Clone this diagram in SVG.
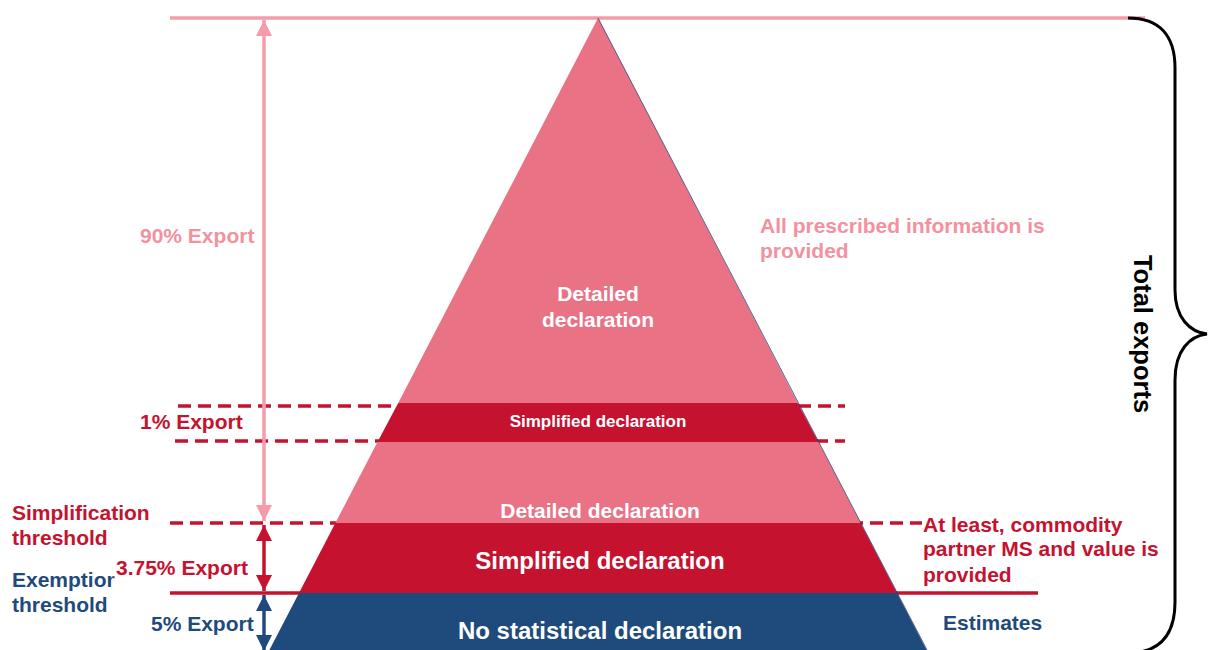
<svg xmlns="http://www.w3.org/2000/svg" width="1208" height="650" viewBox="0 0 1208 650">
<style>
text{font-family:"Liberation Sans",Arial,sans-serif;font-weight:bold}
.t21{font-size:21px}
.w{fill:#FFFFFF}
.pk{fill:#F3919F}
.rd{fill:#C4122F}
.bl{fill:#1F4A7C}
.dash{stroke:#C4122F;stroke-width:3.5;stroke-dasharray:13 7;fill:none}
.pkline{stroke:#F49CAA;stroke-width:3.5;fill:none}
</style>
<defs>
<marker id="ahPk" viewBox="0 0 10 10" refX="10" refY="5" markerWidth="4.6" markerHeight="4.6" orient="auto-start-reverse" markerUnits="strokeWidth"><path d="M0,0 L10,5 L0,10 Z" fill="#F49CAA"/></marker>
<marker id="ahRd" viewBox="0 0 10 10" refX="10" refY="5" markerWidth="4.6" markerHeight="4.6" orient="auto-start-reverse" markerUnits="strokeWidth"><path d="M0,0 L10,5 L0,10 Z" fill="#C4122F"/></marker>
<marker id="ahBl" viewBox="0 0 10 10" refX="10" refY="5" markerWidth="4.6" markerHeight="4.6" orient="auto-start-reverse" markerUnits="strokeWidth"><path d="M0,0 L10,5 L0,10 Z" fill="#1F4A7C"/></marker>
</defs>
<rect width="1208" height="650" fill="#FFFFFF"/>
<g id="connectors">
<line class="pkline" x1="170" y1="18" x2="1145" y2="18"/>
<line class="dash" x1="178" y1="406" x2="845" y2="406"/>
<line class="dash" x1="175" y1="441" x2="845" y2="441"/>
<line class="dash" x1="170" y1="523" x2="922" y2="523"/>
<line x1="170" y1="593" x2="1038" y2="593" stroke="#C4122F" stroke-width="3.5"/>
</g>
<g id="pyramid">
<polygon id="top-detailed" points="598,18 797.8,403 398.2,403" fill="#E97285"/>
<polygon id="band-simplified-1" points="398.2,403 797.8,403 818.5,442 377.5,442" fill="#C4122F"/>
<polygon id="band-detailed-2" points="377.5,442 818.5,442 860.6,523 335.4,523" fill="#E97285"/>
<polygon id="band-simplified-2" points="335.4,523 860.6,523 897,593 299,593" fill="#C4122F"/>
<polygon id="band-none" points="299,593 897,593 926.6,650 269.4,650" fill="#1F4A7C"/>
<line x1="598" y1="18" x2="927" y2="650" stroke="#2B3F78" stroke-width="0.8"/>
</g>
<g id="arrows">
<line x1="264" y1="20" x2="264" y2="521" stroke="#F49CAA" stroke-width="3.5" marker-start="url(#ahPk)" marker-end="url(#ahPk)"/>
<line x1="264" y1="525" x2="264" y2="591" stroke="#C4122F" stroke-width="3.5" marker-start="url(#ahRd)" marker-end="url(#ahRd)"/>
<line x1="264" y1="595" x2="264" y2="651" stroke="#1F4A7C" stroke-width="3.5" marker-start="url(#ahBl)" marker-end="url(#ahBl)"/>
</g>
<g id="brace">
<path d="M1128,18 C1160,18 1175,36 1175,68 L1175,290 C1175,318 1190,332 1207,334 C1190,336 1175,350 1175,380 L1175,602 C1175,632 1162,648 1140,652" fill="none" stroke="#000000" stroke-width="3"/>
<text x="0" y="0" transform="translate(1134,334) rotate(90)" text-anchor="middle" font-size="25.5" fill="#000000">Total exports</text>
</g>
<g id="label-detailed-top">
<text class="t21 w" x="598" y="301" text-anchor="middle">Detailed</text>
<text class="t21 w" x="598" y="327" text-anchor="middle">declaration</text>
</g>
<g id="label-simplified-1">
<text class="w" x="598" y="427" text-anchor="middle" font-size="17">Simplified declaration</text>
</g>
<g id="label-detailed-2">
<text class="t21 w" x="600" y="518" text-anchor="middle">Detailed declaration</text>
</g>
<g id="label-simplified-2">
<text class="w" x="600" y="569" text-anchor="middle" font-size="24">Simplified declaration</text>
</g>
<g id="label-none">
<text class="w" x="600" y="639" text-anchor="middle" font-size="24">No statistical declaration</text>
</g>
<g id="left-labels">
<text class="t21 pk" x="140" y="243">90% Export</text>
<text class="t21 rd" x="140" y="429">1% Export</text>
<text class="t21 rd" x="12" y="520">Simplification</text>
<text class="t21 rd" x="12" y="545">threshold</text>
<text class="t21 bl" x="12" y="587">Exemption</text>
<text class="t21 bl" x="12" y="612">threshold</text>
<rect x="114.5" y="556" width="136" height="34" fill="#FFFFFF"/>
<text class="t21 rd" x="116" y="575">3.75% Export</text>
<text class="t21 bl" x="151" y="631">5% Export</text>
</g>
<g id="right-labels">
<text class="t21" x="760" y="233" fill="#F3919F">All prescribed information is</text>
<text class="t21" x="760" y="258" fill="#F3919F">provided</text>
<text class="t21 rd" x="923" y="532">At least, commodity</text>
<text class="t21 rd" x="923" y="556">partner MS and value is</text>
<text class="t21 rd" x="923" y="582">provided</text>
<text class="t21 bl" x="943" y="630">Estimates</text>
</g>
</svg>
